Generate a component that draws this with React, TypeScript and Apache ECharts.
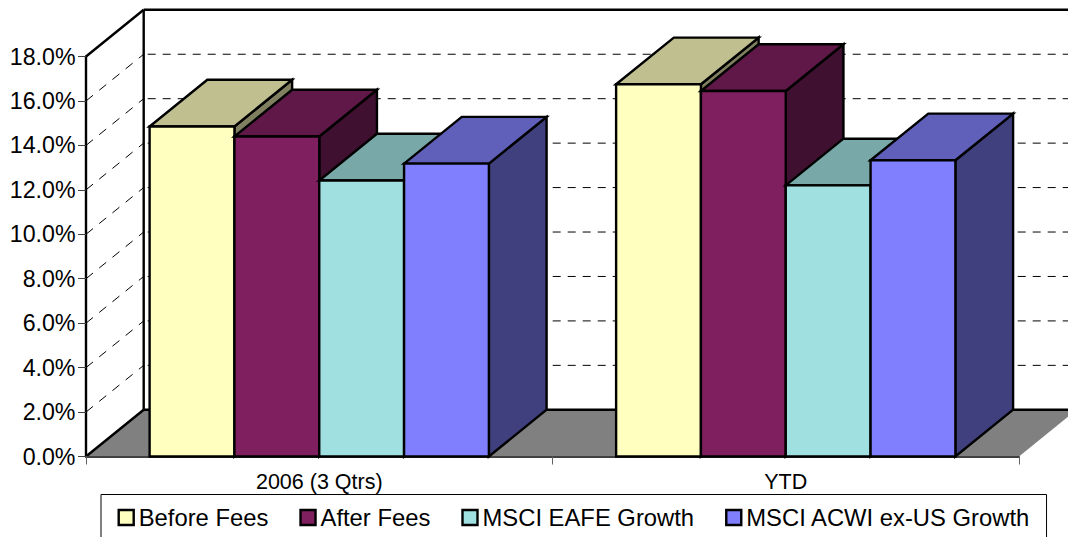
import React, { useEffect, useRef } from "react";
import * as echarts from "echarts";

const categories = ["2006 (3 Qtrs)", "YTD"];
const seriesNames = ["Before Fees", "After Fees", "MSCI EAFE Growth", "MSCI ACWI ex-US Growth"];
const beforeFees = [14.85, 16.75];
const afterFees = [14.4, 16.45];
const eafeGrowth = [12.42, 12.2];
const acwiGrowth = [13.18, 13.33];
const gridTicks = [2, 4, 6, 8, 10, 12, 14, 16];
const frontColors = ["#FFFFC0", "#7F1F5F", "#A0E0E0", "#8080FF"];
const topColors = ["#BFBF90", "#5F1847", "#78A8A8", "#6060BB"];
const sideColors = ["#808060", "#3F102F", "#507070", "#40407F"];

const DX = 57.7;
const DY = 46.7;
const FONT = "Liberation Sans";

function bar3d(seriesIdx: number) {
  return (_p: any, api: any) => {
    const cat = api.value(0);
    const val = api.value(1);
    const band = api.size([1, 0])[0];
    const w = band / 5.5;
    const [cx, yTop] = api.coord([cat, val]);
    const [, yBase] = api.coord([cat, 0]);
    const x0 = cx - 2 * w + seriesIdx * w;
    const x1 = x0 + w;
    const stroke = { stroke: "#000", lineWidth: 2.4, lineJoin: "miter" };
    return {
      type: "group",
      children: [
        {
          type: "polygon",
          shape: { points: [[x1, yTop], [x1 + DX, yTop - DY], [x1 + DX, yBase - DY], [x1, yBase]] },
          style: { fill: sideColors[seriesIdx], ...stroke },
        },
        {
          type: "polygon",
          shape: { points: [[x0, yTop], [x0 + DX, yTop - DY], [x1 + DX, yTop - DY], [x1, yTop]] },
          style: { fill: topColors[seriesIdx], ...stroke },
        },
        {
          type: "polygon",
          shape: { points: [[x0, yTop], [x1, yTop], [x1, yBase], [x0, yBase]] },
          style: { fill: frontColors[seriesIdx], ...stroke },
        },
      ],
    };
  };
}

function renderShell(params: any, api: any) {
  const cs = params.coordSys;
  const l = cs.x;
  const r = cs.x + cs.width;
  const [, y0] = api.coord([0, 0]);
  const [, yMax] = api.coord([0, 18]);
  const solid = { stroke: "#000", lineWidth: 2.4 };
  const children: any[] = [
    {
      type: "polygon",
      shape: { points: [[l, y0], [l + DX, y0 - DY], [r + DX, y0 - DY], [r, y0]] },
      style: { fill: "#808080" },
    },
    { type: "line", shape: { x1: l + DX, y1: y0 - DY, x2: r + DX, y2: y0 - DY }, style: solid },
    { type: "line", shape: { x1: l, y1: y0, x2: l + DX, y2: y0 - DY }, style: solid },
    { type: "line", shape: { x1: l + DX, y1: y0 - DY, x2: l + DX, y2: yMax - DY }, style: solid },
    { type: "line", shape: { x1: l, y1: yMax, x2: l + DX, y2: yMax - DY }, style: solid },
    { type: "line", shape: { x1: l + DX, y1: yMax - DY, x2: r + DX, y2: yMax - DY }, style: solid },
  ];
  gridTicks.forEach((t) => {
    const [, y] = api.coord([0, t]);
    children.push({
      type: "line",
      shape: { x1: l, y1: y, x2: l + DX, y2: y - DY },
      style: { stroke: "#000", lineWidth: 1, lineDash: [9, 8] },
    });
    children.push({
      type: "line",
      shape: { x1: l + DX + 4, y1: y - DY, x2: r + DX, y2: y - DY },
      style: { stroke: "#000", lineWidth: 1, lineDash: [8, 7] },
    });
  });
  return { type: "group", children };
}

export default function App() {
  const ref = useRef<HTMLDivElement>(null);
  useEffect(() => {
    document.body.style.margin = "0";
    const chart = echarts.init(ref.current!, undefined, { renderer: "svg" });
    const values = [beforeFees, afterFees, eafeGrowth, acwiGrowth];
    chart.setOption({
      animation: false,
      backgroundColor: "#fff",
      textStyle: { fontFamily: FONT },
      grid: { left: 86, top: 56.5, width: 933, height: 400, containLabel: false },
      legend: {
        left: 101,
        top: 494.5,
        icon: "rect",
        itemWidth: 15,
        itemHeight: 15,
        itemGap: 31,
        padding: [11, 16, 40, 16.5],
        borderColor: "#000",
        borderWidth: 1,
        selectedMode: false,
        data: seriesNames,
        itemStyle: { borderColor: "#000", borderWidth: 2.4 },
        textStyle: { fontFamily: FONT, fontSize: 23.8, color: "#000" },
      },
      xAxis: {
        type: "category",
        data: categories,
        z: 1,
        axisLine: { lineStyle: { color: "#404040", width: 2 } },
        axisTick: { show: true, length: 8, lineStyle: { color: "#606060", width: 1 } },
        axisLabel: { color: "#000", fontSize: 21.5, fontFamily: FONT, margin: 14 },
        splitLine: { show: false },
      },
      yAxis: {
        type: "value",
        min: 0,
        max: 18,
        interval: 2,
        z: 1,
        axisLine: { show: true, lineStyle: { color: "#000", width: 2.4 } },
        axisTick: { show: true, length: 8, lineStyle: { color: "#404040", width: 1 } },
        axisLabel: {
          color: "#000",
          fontSize: 23.2,
          fontFamily: FONT,
          margin: 10.5,
          formatter: (v: number) => v.toFixed(1) + "%",
        },
        splitLine: { show: false },
      },
      series: [
        {
          type: "custom",
          name: "shell",
          z: 0,
          clip: false,
          silent: true,
          renderItem: renderShell,
          data: [[0, 0]],
          encode: { x: 0, y: 1 },
        },
        ...seriesNames.map((name, i) => ({
          type: "custom",
          name,
          z: 2,
          clip: false,
          itemStyle: { color: frontColors[i] },
          renderItem: bar3d(i),
          data: values[i].map((v, c) => [c, v]),
          encode: { x: 0, y: 1 },
        })),
      ],
    });
    return () => chart.dispose();
  }, []);
  return <div ref={ref} style={{ width: 1068, height: 537, overflow: "hidden" }} />;
}
